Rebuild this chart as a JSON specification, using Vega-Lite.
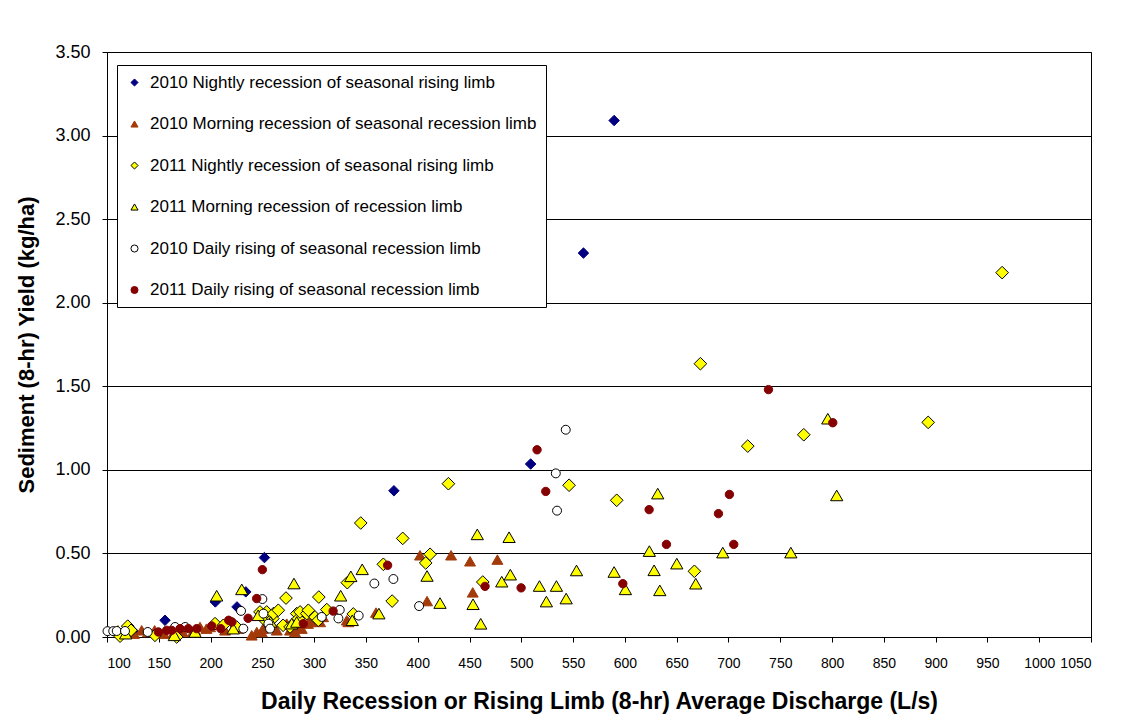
{
  "$schema": "https://vega.github.io/schema/vega-lite/v6.json",
  "width": 984,
  "height": 585,
  "autosize": {"type": "none"},
  "padding": {"left": 107, "top": 52, "right": 44, "bottom": 84},
  "background": "white",
  "config": {
    "font": "Liberation Sans",
    "view": {"stroke": "black", "strokeWidth": 1},
    "axis": {
      "domainColor": "black",
      "tickColor": "black",
      "labelColor": "black",
      "titleColor": "black",
      "tickSize": 5,
      "labelFont": "Liberation Sans",
      "titleFont": "Liberation Sans",
      "titleFontWeight": "bold"
    }
  },
  "datasets": {
    "pts": [
      {"series": "2010 Nightly recession of seasonal rising limb", "discharge": 126, "yield": 0.03},
      {"series": "2010 Nightly recession of seasonal rising limb", "discharge": 156, "yield": 0.10},
      {"series": "2010 Nightly recession of seasonal rising limb", "discharge": 204.6, "yield": 0.21},
      {"series": "2010 Nightly recession of seasonal rising limb", "discharge": 225.5, "yield": 0.18},
      {"series": "2010 Nightly recession of seasonal rising limb", "discharge": 234, "yield": 0.27},
      {"series": "2010 Nightly recession of seasonal rising limb", "discharge": 252, "yield": 0.475},
      {"series": "2010 Nightly recession of seasonal rising limb", "discharge": 377, "yield": 0.875},
      {"series": "2010 Nightly recession of seasonal rising limb", "discharge": 509, "yield": 1.035},
      {"series": "2010 Nightly recession of seasonal rising limb", "discharge": 560, "yield": 2.297},
      {"series": "2010 Nightly recession of seasonal rising limb", "discharge": 589.6, "yield": 3.09},

      {"series": "2010 Morning recession of seasonal recession limb", "discharge": 110.6, "yield": 0.04},
      {"series": "2010 Morning recession of seasonal recession limb", "discharge": 118, "yield": 0.03},
      {"series": "2010 Morning recession of seasonal recession limb", "discharge": 126, "yield": 0.02},
      {"series": "2010 Morning recession of seasonal recession limb", "discharge": 133.5, "yield": 0.04},
      {"series": "2010 Morning recession of seasonal recession limb", "discharge": 139.6, "yield": 0.03},
      {"series": "2010 Morning recession of seasonal recession limb", "discharge": 146, "yield": 0.04},
      {"series": "2010 Morning recession of seasonal recession limb", "discharge": 155, "yield": 0.02},
      {"series": "2010 Morning recession of seasonal recession limb", "discharge": 165, "yield": 0.03},
      {"series": "2010 Morning recession of seasonal recession limb", "discharge": 173, "yield": 0.03},
      {"series": "2010 Morning recession of seasonal recession limb", "discharge": 183, "yield": 0.03},
      {"series": "2010 Morning recession of seasonal recession limb", "discharge": 185, "yield": 0.04},
      {"series": "2010 Morning recession of seasonal recession limb", "discharge": 189.8, "yield": 0.06},
      {"series": "2010 Morning recession of seasonal recession limb", "discharge": 196, "yield": 0.05},
      {"series": "2010 Morning recession of seasonal recession limb", "discharge": 199.5, "yield": 0.06},
      {"series": "2010 Morning recession of seasonal recession limb", "discharge": 214, "yield": 0.04},
      {"series": "2010 Morning recession of seasonal recession limb", "discharge": 221.7, "yield": 0.05},
      {"series": "2010 Morning recession of seasonal recession limb", "discharge": 226.5, "yield": 0.05},
      {"series": "2010 Morning recession of seasonal recession limb", "discharge": 239.7, "yield": 0.01},
      {"series": "2010 Morning recession of seasonal recession limb", "discharge": 244.6, "yield": 0.03},
      {"series": "2010 Morning recession of seasonal recession limb", "discharge": 249.4, "yield": 0.03},
      {"series": "2010 Morning recession of seasonal recession limb", "discharge": 250.6, "yield": 0.05},
      {"series": "2010 Morning recession of seasonal recession limb", "discharge": 263.9, "yield": 0.04},
      {"series": "2010 Morning recession of seasonal recession limb", "discharge": 273.5, "yield": 0.08},
      {"series": "2010 Morning recession of seasonal recession limb", "discharge": 276.7, "yield": 0.04},
      {"series": "2010 Morning recession of seasonal recession limb", "discharge": 281.5, "yield": 0.03},
      {"series": "2010 Morning recession of seasonal recession limb", "discharge": 284.4, "yield": 0.06},
      {"series": "2010 Morning recession of seasonal recession limb", "discharge": 288, "yield": 0.05},
      {"series": "2010 Morning recession of seasonal recession limb", "discharge": 294, "yield": 0.08},
      {"series": "2010 Morning recession of seasonal recession limb", "discharge": 296, "yield": 0.09},
      {"series": "2010 Morning recession of seasonal recession limb", "discharge": 302.5, "yield": 0.10},
      {"series": "2010 Morning recession of seasonal recession limb", "discharge": 305.7, "yield": 0.09},
      {"series": "2010 Morning recession of seasonal recession limb", "discharge": 308.6, "yield": 0.12},
      {"series": "2010 Morning recession of seasonal recession limb", "discharge": 331.5, "yield": 0.10},
      {"series": "2010 Morning recession of seasonal recession limb", "discharge": 333, "yield": 0.09},
      {"series": "2010 Morning recession of seasonal recession limb", "discharge": 359.7, "yield": 0.146},
      {"series": "2010 Morning recession of seasonal recession limb", "discharge": 402.2, "yield": 0.489},
      {"series": "2010 Morning recession of seasonal recession limb", "discharge": 409, "yield": 0.215},
      {"series": "2010 Morning recession of seasonal recession limb", "discharge": 432.2, "yield": 0.489},
      {"series": "2010 Morning recession of seasonal recession limb", "discharge": 450.5, "yield": 0.453},
      {"series": "2010 Morning recession of seasonal recession limb", "discharge": 453.1, "yield": 0.267},
      {"series": "2010 Morning recession of seasonal recession limb", "discharge": 476.9, "yield": 0.463},

      {"series": "2011 Nightly recession of seasonal rising limb", "discharge": 112.6, "yield": 0.005},
      {"series": "2011 Nightly recession of seasonal rising limb", "discharge": 120, "yield": 0.065},
      {"series": "2011 Nightly recession of seasonal rising limb", "discharge": 123.2, "yield": 0.04},
      {"series": "2011 Nightly recession of seasonal rising limb", "discharge": 146.3, "yield": 0.01},
      {"series": "2011 Nightly recession of seasonal rising limb", "discharge": 167.3, "yield": 0.0},
      {"series": "2011 Nightly recession of seasonal rising limb", "discharge": 204.3, "yield": 0.08},
      {"series": "2011 Nightly recession of seasonal rising limb", "discharge": 212.3, "yield": 0.07},
      {"series": "2011 Nightly recession of seasonal rising limb", "discharge": 225.2, "yield": 0.06},
      {"series": "2011 Nightly recession of seasonal rising limb", "discharge": 247.7, "yield": 0.15},
      {"series": "2011 Nightly recession of seasonal rising limb", "discharge": 252.6, "yield": 0.10},
      {"series": "2011 Nightly recession of seasonal rising limb", "discharge": 254.2, "yield": 0.15},
      {"series": "2011 Nightly recession of seasonal rising limb", "discharge": 260.1, "yield": 0.11},
      {"series": "2011 Nightly recession of seasonal rising limb", "discharge": 260.7, "yield": 0.14},
      {"series": "2011 Nightly recession of seasonal rising limb", "discharge": 265.4, "yield": 0.16},
      {"series": "2011 Nightly recession of seasonal rising limb", "discharge": 270, "yield": 0.07},
      {"series": "2011 Nightly recession of seasonal rising limb", "discharge": 272.8, "yield": 0.233},
      {"series": "2011 Nightly recession of seasonal rising limb", "discharge": 276.7, "yield": 0.06},
      {"series": "2011 Nightly recession of seasonal rising limb", "discharge": 283.2, "yield": 0.14},
      {"series": "2011 Nightly recession of seasonal rising limb", "discharge": 284.7, "yield": 0.11},
      {"series": "2011 Nightly recession of seasonal rising limb", "discharge": 286.4, "yield": 0.15},
      {"series": "2011 Nightly recession of seasonal rising limb", "discharge": 292.8, "yield": 0.14},
      {"series": "2011 Nightly recession of seasonal rising limb", "discharge": 294.4, "yield": 0.16},
      {"series": "2011 Nightly recession of seasonal rising limb", "discharge": 300.8, "yield": 0.12},
      {"series": "2011 Nightly recession of seasonal rising limb", "discharge": 304, "yield": 0.10},
      {"series": "2011 Nightly recession of seasonal rising limb", "discharge": 304.5, "yield": 0.239},
      {"series": "2011 Nightly recession of seasonal rising limb", "discharge": 312.2, "yield": 0.164},
      {"series": "2011 Nightly recession of seasonal rising limb", "discharge": 332, "yield": 0.325},
      {"series": "2011 Nightly recession of seasonal rising limb", "discharge": 337.8, "yield": 0.138},
      {"series": "2011 Nightly recession of seasonal rising limb", "discharge": 345, "yield": 0.682},
      {"series": "2011 Nightly recession of seasonal rising limb", "discharge": 366.8, "yield": 0.435},
      {"series": "2011 Nightly recession of seasonal rising limb", "discharge": 375.3, "yield": 0.215},
      {"series": "2011 Nightly recession of seasonal rising limb", "discharge": 385.5, "yield": 0.59},
      {"series": "2011 Nightly recession of seasonal rising limb", "discharge": 407.7, "yield": 0.443},
      {"series": "2011 Nightly recession of seasonal rising limb", "discharge": 411.9, "yield": 0.495},
      {"series": "2011 Nightly recession of seasonal rising limb", "discharge": 429.6, "yield": 0.917},
      {"series": "2011 Nightly recession of seasonal rising limb", "discharge": 462.8, "yield": 0.329},
      {"series": "2011 Nightly recession of seasonal rising limb", "discharge": 546.1, "yield": 0.908},
      {"series": "2011 Nightly recession of seasonal rising limb", "discharge": 592.1, "yield": 0.818},
      {"series": "2011 Nightly recession of seasonal rising limb", "discharge": 667.1, "yield": 0.393},
      {"series": "2011 Nightly recession of seasonal rising limb", "discharge": 672.9, "yield": 1.635},
      {"series": "2011 Nightly recession of seasonal rising limb", "discharge": 718.6, "yield": 1.142},
      {"series": "2011 Nightly recession of seasonal rising limb", "discharge": 772.7, "yield": 1.21},
      {"series": "2011 Nightly recession of seasonal rising limb", "discharge": 892.8, "yield": 1.284},
      {"series": "2011 Nightly recession of seasonal rising limb", "discharge": 964.2, "yield": 2.18},

      {"series": "2011 Morning recession of recession limb", "discharge": 118, "yield": 0.02},
      {"series": "2011 Morning recession of recession limb", "discharge": 165, "yield": 0.01},
      {"series": "2011 Morning recession of recession limb", "discharge": 185, "yield": 0.03},
      {"series": "2011 Morning recession of recession limb", "discharge": 205.9, "yield": 0.247},
      {"series": "2011 Morning recession of recession limb", "discharge": 221.9, "yield": 0.05},
      {"series": "2011 Morning recession of recession limb", "discharge": 230.1, "yield": 0.285},
      {"series": "2011 Morning recession of recession limb", "discharge": 246, "yield": 0.13},
      {"series": "2011 Morning recession of recession limb", "discharge": 258, "yield": 0.09},
      {"series": "2011 Morning recession of recession limb", "discharge": 278.3, "yield": 0.08},
      {"series": "2011 Morning recession of recession limb", "discharge": 280.5, "yield": 0.32},
      {"series": "2011 Morning recession of recession limb", "discharge": 283.2, "yield": 0.09},
      {"series": "2011 Morning recession of recession limb", "discharge": 325.6, "yield": 0.247},
      {"series": "2011 Morning recession of recession limb", "discharge": 335.4, "yield": 0.363},
      {"series": "2011 Morning recession of recession limb", "discharge": 336.8, "yield": 0.10},
      {"series": "2011 Morning recession of recession limb", "discharge": 346.4, "yield": 0.405},
      {"series": "2011 Morning recession of recession limb", "discharge": 362.5, "yield": 0.14},
      {"series": "2011 Morning recession of recession limb", "discharge": 409, "yield": 0.365},
      {"series": "2011 Morning recession of recession limb", "discharge": 421.5, "yield": 0.203},
      {"series": "2011 Morning recession of recession limb", "discharge": 453.4, "yield": 0.196},
      {"series": "2011 Morning recession of recession limb", "discharge": 457.5, "yield": 0.614},
      {"series": "2011 Morning recession of recession limb", "discharge": 460.8, "yield": 0.079},
      {"series": "2011 Morning recession of recession limb", "discharge": 481.1, "yield": 0.331},
      {"series": "2011 Morning recession of recession limb", "discharge": 488.2, "yield": 0.597},
      {"series": "2011 Morning recession of recession limb", "discharge": 489.4, "yield": 0.373},
      {"series": "2011 Morning recession of recession limb", "discharge": 517.5, "yield": 0.305},
      {"series": "2011 Morning recession of recession limb", "discharge": 524.2, "yield": 0.212},
      {"series": "2011 Morning recession of recession limb", "discharge": 533.9, "yield": 0.305},
      {"series": "2011 Morning recession of recession limb", "discharge": 543.3, "yield": 0.23},
      {"series": "2011 Morning recession of recession limb", "discharge": 553.3, "yield": 0.398},
      {"series": "2011 Morning recession of recession limb", "discharge": 589.6, "yield": 0.389},
      {"series": "2011 Morning recession of recession limb", "discharge": 600.5, "yield": 0.285},
      {"series": "2011 Morning recession of recession limb", "discharge": 623.6, "yield": 0.514},
      {"series": "2011 Morning recession of recession limb", "discharge": 628.2, "yield": 0.399},
      {"series": "2011 Morning recession of recession limb", "discharge": 631.7, "yield": 0.858},
      {"series": "2011 Morning recession of recession limb", "discharge": 633.7, "yield": 0.279},
      {"series": "2011 Morning recession of recession limb", "discharge": 650.1, "yield": 0.439},
      {"series": "2011 Morning recession of recession limb", "discharge": 668.4, "yield": 0.319},
      {"series": "2011 Morning recession of recession limb", "discharge": 694.5, "yield": 0.505},
      {"series": "2011 Morning recession of recession limb", "discharge": 760.2, "yield": 0.505},
      {"series": "2011 Morning recession of recession limb", "discharge": 795.9, "yield": 1.306},
      {"series": "2011 Morning recession of recession limb", "discharge": 804.5, "yield": 0.847},

      {"series": "2010 Daily rising of seasonal recession limb", "discharge": 100.5, "yield": 0.035},
      {"series": "2010 Daily rising of seasonal recession limb", "discharge": 106, "yield": 0.035},
      {"series": "2010 Daily rising of seasonal recession limb", "discharge": 109.4, "yield": 0.036},
      {"series": "2010 Daily rising of seasonal recession limb", "discharge": 117.4, "yield": 0.036},
      {"series": "2010 Daily rising of seasonal recession limb", "discharge": 139.3, "yield": 0.03},
      {"series": "2010 Daily rising of seasonal recession limb", "discharge": 165.7, "yield": 0.06},
      {"series": "2010 Daily rising of seasonal recession limb", "discharge": 175.5, "yield": 0.06},
      {"series": "2010 Daily rising of seasonal recession limb", "discharge": 229.4, "yield": 0.156},
      {"series": "2010 Daily rising of seasonal recession limb", "discharge": 231.6, "yield": 0.05},
      {"series": "2010 Daily rising of seasonal recession limb", "discharge": 250, "yield": 0.227},
      {"series": "2010 Daily rising of seasonal recession limb", "discharge": 251, "yield": 0.14},
      {"series": "2010 Daily rising of seasonal recession limb", "discharge": 255.8, "yield": 0.08},
      {"series": "2010 Daily rising of seasonal recession limb", "discharge": 257.4, "yield": 0.05},
      {"series": "2010 Daily rising of seasonal recession limb", "discharge": 307.3, "yield": 0.12},
      {"series": "2010 Daily rising of seasonal recession limb", "discharge": 323.4, "yield": 0.111},
      {"series": "2010 Daily rising of seasonal recession limb", "discharge": 324.7, "yield": 0.162},
      {"series": "2010 Daily rising of seasonal recession limb", "discharge": 343, "yield": 0.128},
      {"series": "2010 Daily rising of seasonal recession limb", "discharge": 358.1, "yield": 0.32},
      {"series": "2010 Daily rising of seasonal recession limb", "discharge": 376.5, "yield": 0.347},
      {"series": "2010 Daily rising of seasonal recession limb", "discharge": 401.3, "yield": 0.185},
      {"series": "2010 Daily rising of seasonal recession limb", "discharge": 533.3, "yield": 0.979},
      {"series": "2010 Daily rising of seasonal recession limb", "discharge": 534.5, "yield": 0.756},
      {"series": "2010 Daily rising of seasonal recession limb", "discharge": 542.9, "yield": 1.24},

      {"series": "2011 Daily rising of seasonal recession limb", "discharge": 149.6, "yield": 0.03},
      {"series": "2011 Daily rising of seasonal recession limb", "discharge": 157.6, "yield": 0.04},
      {"series": "2011 Daily rising of seasonal recession limb", "discharge": 162.4, "yield": 0.04},
      {"series": "2011 Daily rising of seasonal recession limb", "discharge": 170.5, "yield": 0.05},
      {"series": "2011 Daily rising of seasonal recession limb", "discharge": 178.5, "yield": 0.05},
      {"series": "2011 Daily rising of seasonal recession limb", "discharge": 186.6, "yield": 0.05},
      {"series": "2011 Daily rising of seasonal recession limb", "discharge": 201.1, "yield": 0.066},
      {"series": "2011 Daily rising of seasonal recession limb", "discharge": 209.8, "yield": 0.05},
      {"series": "2011 Daily rising of seasonal recession limb", "discharge": 217.5, "yield": 0.10},
      {"series": "2011 Daily rising of seasonal recession limb", "discharge": 220.6, "yield": 0.09},
      {"series": "2011 Daily rising of seasonal recession limb", "discharge": 236.2, "yield": 0.112},
      {"series": "2011 Daily rising of seasonal recession limb", "discharge": 244.5, "yield": 0.23},
      {"series": "2011 Daily rising of seasonal recession limb", "discharge": 250, "yield": 0.403},
      {"series": "2011 Daily rising of seasonal recession limb", "discharge": 289.5, "yield": 0.08},
      {"series": "2011 Daily rising of seasonal recession limb", "discharge": 318.3, "yield": 0.155},
      {"series": "2011 Daily rising of seasonal recession limb", "discharge": 370.9, "yield": 0.429},
      {"series": "2011 Daily rising of seasonal recession limb", "discharge": 465, "yield": 0.303},
      {"series": "2011 Daily rising of seasonal recession limb", "discharge": 499.8, "yield": 0.294},
      {"series": "2011 Daily rising of seasonal recession limb", "discharge": 515.2, "yield": 1.12},
      {"series": "2011 Daily rising of seasonal recession limb", "discharge": 523.6, "yield": 0.871},
      {"series": "2011 Daily rising of seasonal recession limb", "discharge": 598, "yield": 0.319},
      {"series": "2011 Daily rising of seasonal recession limb", "discharge": 623.4, "yield": 0.762},
      {"series": "2011 Daily rising of seasonal recession limb", "discharge": 640.1, "yield": 0.554},
      {"series": "2011 Daily rising of seasonal recession limb", "discharge": 690.3, "yield": 0.738},
      {"series": "2011 Daily rising of seasonal recession limb", "discharge": 700.9, "yield": 0.853},
      {"series": "2011 Daily rising of seasonal recession limb", "discharge": 705.1, "yield": 0.554},
      {"series": "2011 Daily rising of seasonal recession limb", "discharge": 738.6, "yield": 1.48},
      {"series": "2011 Daily rising of seasonal recession limb", "discharge": 800.7, "yield": 1.282}
    ]
  },
  "data": {"name": "pts"},
  "encoding": {
    "x": {
      "field": "discharge",
      "type": "quantitative",
      "scale": {"domain": [100, 1050], "nice": false, "zero": false},
      "axis": {
        "values": [100, 150, 200, 250, 300, 350, 400, 450, 500, 550, 600, 650, 700, 750, 800, 850, 900, 950, 1000, 1050],
        "format": "d",
        "grid": false,
        "labelFontSize": 14,
        "labelPadding": 14,
        "title": "Daily Recession or Rising Limb (8-hr) Average Discharge (L/s)",
        "titleFontSize": 23,
        "titlePadding": 20
      }
    },
    "y": {
      "field": "yield",
      "type": "quantitative",
      "scale": {"domain": [0, 3.5], "nice": false},
      "axis": {
        "values": [0, 0.5, 1, 1.5, 2, 2.5, 3, 3.5],
        "format": ".2f",
        "grid": true,
        "gridColor": "black",
        "gridOpacity": 1,
        "gridWidth": 1,
        "labelFontSize": 18,
        "labelPadding": 12,
        "title": "Sediment (8-hr) Yield (kg/ha)",
        "titleFontSize": 22,
        "titlePadding": 16
      }
    },
    "shape": {
      "field": "series",
      "type": "nominal",
      "scale": {
        "domain": ["2010 Nightly recession of seasonal rising limb", "2010 Morning recession of seasonal recession limb", "2011 Nightly recession of seasonal rising limb", "2011 Morning recession of recession limb", "2010 Daily rising of seasonal recession limb", "2011 Daily rising of seasonal recession limb"],
        "range": ["diamond", "triangle-up", "diamond", "triangle-up", "circle", "circle"]
      },
      "legend": {"title": null, "orient": "none", "legendX": 10, "legendY": 13, "direction": "vertical", "fillColor": "white", "strokeColor": "black", "padding": 9, "rowPadding": 23.5, "labelFontSize": 17, "labelFont": "Liberation Sans", "labelColor": "black", "symbolSize": 50, "symbolStrokeWidth": 1, "labelLimit": 700, "labelOffset": 7}
    },
    "fill": {
      "field": "series",
      "type": "nominal",
      "scale": {
        "domain": ["2010 Nightly recession of seasonal rising limb", "2010 Morning recession of seasonal recession limb", "2011 Nightly recession of seasonal rising limb", "2011 Morning recession of recession limb", "2010 Daily rising of seasonal recession limb", "2011 Daily rising of seasonal recession limb"],
        "range": ["#000080", "#A33A0A", "#FFFF00", "#FFFF00", "#FFFFFF", "#850000"]
      },
      "legend": {"title": null, "orient": "none", "legendX": 10, "legendY": 13, "direction": "vertical", "fillColor": "white", "strokeColor": "black", "padding": 9, "rowPadding": 23.5, "labelFontSize": 17, "labelFont": "Liberation Sans", "labelColor": "black", "symbolSize": 50, "symbolStrokeWidth": 1, "labelLimit": 700, "labelOffset": 7}
    },
    "stroke": {
      "field": "series",
      "type": "nominal",
      "scale": {
        "domain": ["2010 Nightly recession of seasonal rising limb", "2010 Morning recession of seasonal recession limb", "2011 Nightly recession of seasonal rising limb", "2011 Morning recession of recession limb", "2010 Daily rising of seasonal recession limb", "2011 Daily rising of seasonal recession limb"],
        "range": ["#000080", "#A33A0A", "#000000", "#000000", "#000000", "#850000"]
      },
      "legend": {"title": null, "orient": "none", "legendX": 10, "legendY": 13, "direction": "vertical", "fillColor": "white", "strokeColor": "black", "padding": 9, "rowPadding": 23.5, "labelFontSize": 17, "labelFont": "Liberation Sans", "labelColor": "black", "symbolSize": 50, "symbolStrokeWidth": 1, "labelLimit": 700, "labelOffset": 7}
    }
  },
  "layer": [
    {
      "transform": [{"filter": "datum.series === '2010 Nightly recession of seasonal rising limb'"}],
      "mark": {"type": "point", "filled": true, "strokeWidth": 1, "opacity": 1, "size": 110}
    },
    {
      "transform": [{"filter": "datum.series === '2010 Morning recession of seasonal recession limb'"}],
      "mark": {"type": "point", "filled": true, "strokeWidth": 1, "opacity": 1, "size": 120}
    },
    {
      "transform": [{"filter": "datum.series === '2011 Nightly recession of seasonal rising limb'"}],
      "mark": {"type": "point", "filled": true, "strokeWidth": 1, "opacity": 1, "size": 160}
    },
    {
      "transform": [{"filter": "datum.series === '2011 Morning recession of recession limb'"}],
      "mark": {"type": "point", "filled": true, "strokeWidth": 1, "opacity": 1, "size": 150}
    },
    {
      "transform": [{"filter": "datum.series === '2010 Daily rising of seasonal recession limb'"}],
      "mark": {"type": "point", "filled": true, "strokeWidth": 1, "opacity": 1, "size": 80}
    },
    {
      "transform": [{"filter": "datum.series === '2011 Daily rising of seasonal recession limb'"}],
      "mark": {"type": "point", "filled": true, "strokeWidth": 1, "opacity": 1, "size": 70}
    }
  ]
}
